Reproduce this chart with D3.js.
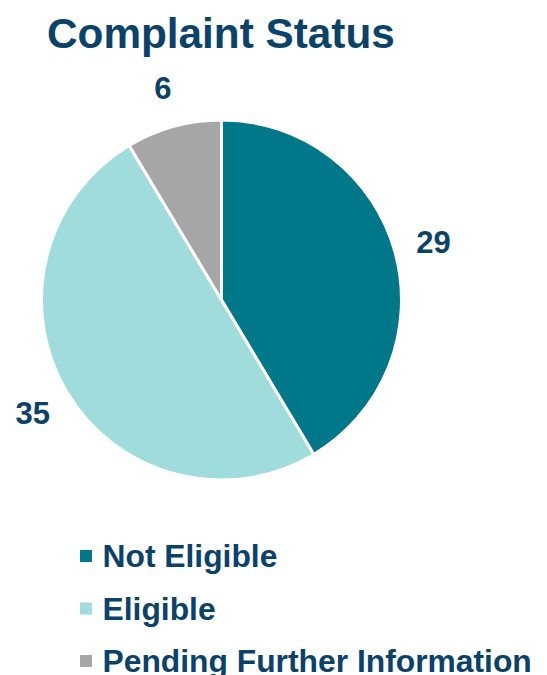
<!DOCTYPE html>
<html lang="en">
<head>
    <meta charset="UTF-8">
    <title>Complaint Status</title>
    <script src="https://cdn.jsdelivr.net/npm/d3@7"></script>
    <style>
        body { margin: 0; background: #fff; }
    </style>
</head>
<body>

<script>

    const categories = ["Not Eligible", "Eligible", "Pending Further Information"];
    const values = [29, 35, 6];
    const colors = ["#00788A", "#A0DCDB", "#A6A6A6"];

    const width = 547;
    const height = 675;
    const radius = 180;
    const label_radius = 220;
    const text_color = "#0A426A";
    const font = "'Liberation Sans', Arial, sans-serif";

    const svg = d3.select("body").append("svg")
        .attr("width", width)
        .attr("height", height);

    svg.append("text")
        .attr("x", 47)
        .attr("y", 48)
        .attr("font-family", font)
        .attr("font-weight", "bold")
        .attr("font-size", 42.3)
        .attr("fill", text_color)
        .text("Complaint Status");

    const data = categories.map((name, i) => ({name, value: values[i], color: colors[i]}));

    const pie = d3.pie()
        .value(d => d.value)
        .sort(null);

    const arc = d3.arc()
        .innerRadius(0)
        .outerRadius(radius);

    const label_arc = d3.arc()
        .innerRadius(label_radius)
        .outerRadius(label_radius);

    const g = svg.append("g")
        .attr("transform", "translate(221.5, 300)");

    const arcs = pie(data);

    g.selectAll("path")
        .data(arcs)
        .join("path")
        .attr("fill", d => d.data.color)
        .attr("stroke", "#fff")
        .attr("stroke-width", 3)
        .attr("stroke-linejoin", "round")
        .attr("d", arc);

    g.selectAll("text")
        .data(arcs)
        .join("text")
        .attr("transform", d => `translate(${label_arc.centroid(d)})`)
        .attr("text-anchor", "middle")
        .attr("dy", "0.36em")
        .attr("font-family", font)
        .attr("font-weight", "bold")
        .attr("font-size", 31)
        .attr("fill", text_color)
        .text(d => d.data.value);

    // legend rows, the last one runs into the bottom edge like the original slide
    const legend = svg.append("g")
        .selectAll("g")
        .data(data)
        .join("g")
        .attr("transform", (d, i) => `translate(80, ${567 + i * 52.5})`);

    legend.append("rect")
        .attr("y", -17)
        .attr("width", 12)
        .attr("height", 12)
        .attr("fill", d => d.color);

    legend.append("text")
        .attr("x", 22.5)
        .attr("font-family", font)
        .attr("font-weight", "bold")
        .attr("font-size", 31.8)
        .attr("fill", text_color)
        .text(d => d.name);

</script>

</body>
</html>
